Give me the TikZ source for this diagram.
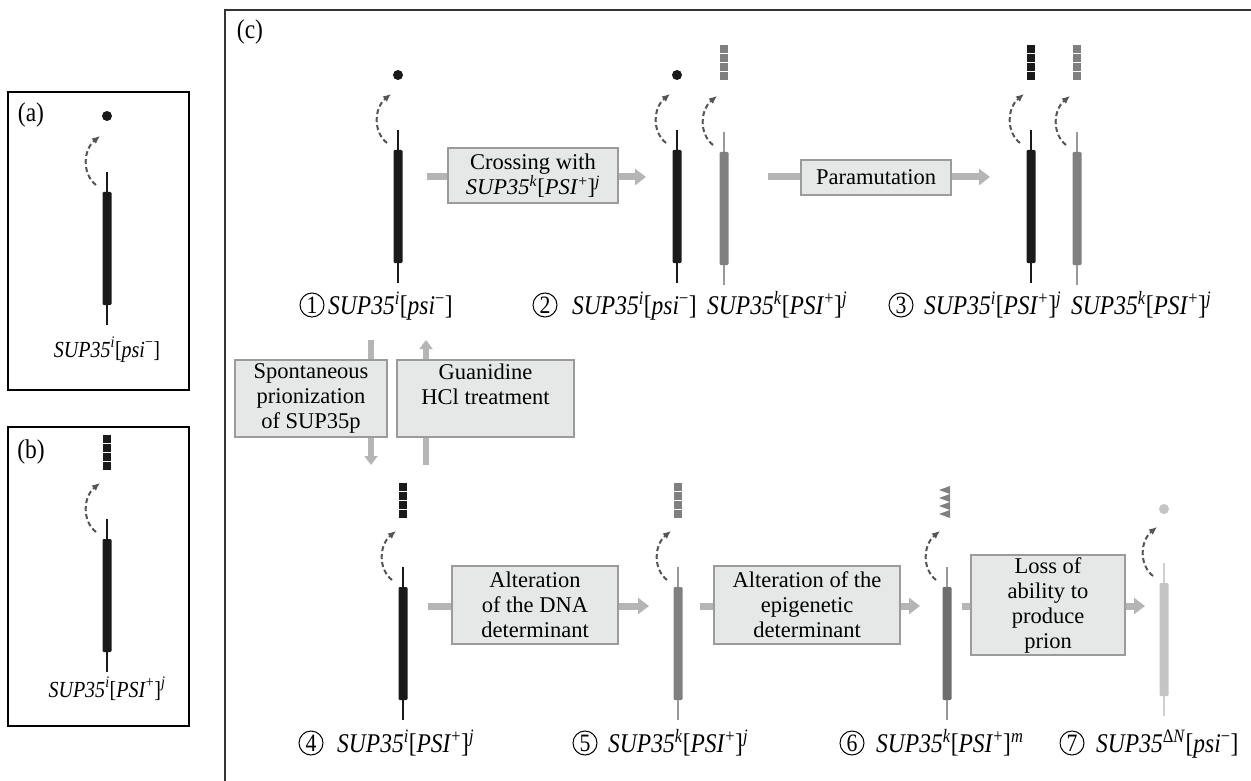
\documentclass[tikz,border=0pt]{standalone}
\usepackage{fontspec}
\setmainfont{Liberation Serif}
\newfontfamily\condfont{Liberation Serif}[FakeStretch=0.87]
\usetikzlibrary{arrows.meta,positioning}
\definecolor{gblack}{HTML}{1A1A1A}
\definecolor{ggray}{HTML}{808080}
\definecolor{gthin}{HTML}{999999}
\definecolor{gdark}{HTML}{6E6E6E}
\definecolor{glight}{HTML}{C4C4C4}
\definecolor{glthin}{HTML}{D0D0D0}
\definecolor{arrgray}{HTML}{B5B5B5}
\definecolor{boxfill}{HTML}{E6E7E7}
\definecolor{boxline}{HTML}{9B9B9B}
\definecolor{dashc}{HTML}{555555}
\definecolor{framec}{HTML}{333333}
\newcommand\SUP[1]{\textit{SUP35}\textsuperscript{#1}}
\newcommand\PSIp[1]{[\textit{PSI}\textsuperscript{+}]\textsuperscript{\textit{#1}}}
\newcommand\psim{[\textit{psi}\textsuperscript{−}]}
\newcommand\drawgene[5]{%
  \coordinate (#1) at (#2,#3);
  \draw[line width=2.6pt,#5] (#2,#3) -- (#2,#3+153);
  \fill[#4,rounded corners=1.2pt] (#2-4.5,#3+20) rectangle (#2+4.5,#3+133);
  \draw[dasharc] (#2-11,#3+13) .. controls (#2-25,#3+2) and (#2-24,#3-22) .. (#2-7,#3-36);
}
\newcommand\squares[3]{%
  \foreach \k in {0,...,3}{\fill[#3] (#1-4,#2+\k*9) rectangle (#1+4,#2+\k*9+8);}
}
\tikzset{
  x=1pt,y=-1pt,
  dasharc/.style={draw=dashc,line width=2pt,dash pattern=on 5pt off 3pt,-{Latex[length=8pt,width=7pt]}},
  bigarrow/.style={draw=arrgray,line width=7pt,-{Triangle[length=11pt,width=16pt]}},
  varrow/.style={draw=arrgray,line width=6pt,-{Triangle[length=9pt,width=13pt]}},
  pbox/.style={draw=boxline,fill=boxfill,line width=1.2pt,align=center,inner sep=0pt,
    font=\fontsize{22.5}{25}\selectfont},
  circnum/.style={circle,draw=black,line width=1pt,minimum size=24pt,inner sep=0pt,
    font=\condfont\fontsize{25}{25}\selectfont},
  labc/.style={anchor=base west,inner sep=0pt,font=\condfont\fontsize{27}{28}\selectfont},
  labab/.style={anchor=base,inner sep=0pt,font=\condfont\fontsize{23}{24}\selectfont},
  plabel/.style={inner sep=0pt,font=\condfont\fontsize{27}{28}\selectfont},
}
\begin{document}
\begin{tikzpicture}
\useasboundingbox (0,0) rectangle (1251,781);
% panel frames
\draw[line width=1.2pt,black] (8,92) rectangle (189,390);
\draw[line width=1.2pt,black] (8,427) rectangle (189,726);
\draw[line width=1.3pt,framec] (1251,10) -- (225,10) -- (225,781);
\node[plabel] (la) at (31,115) {(a)};
\node[plabel] (lb) at (31,452) {(b)};
\node[plabel] (lc) at (250,32) {(c)};

% panel (a)
\drawgene{pa}{107}{172}{gblack}{gblack}
\fill[gblack] (107,116) circle (5);
\node[labab] (tpa) at (107,357) {\SUP{\textit{i}}\psim};
% panel (b)
\drawgene{pb}{107}{519}{gblack}{gblack}
\squares{107}{435}{gblack}
\node[labab] (tpb) at (107,697) {\SUP{\textit{i}}\PSIp{j}};

% ---- panel (c) top row
\drawgene{g1}{398}{130}{gblack}{gblack}
\fill[gblack] (398,75) circle (5);
\drawgene{g2a}{677}{130}{gblack}{gblack}
\fill[gblack] (677,75) circle (5);
\drawgene{g2b}{724}{132}{ggray}{gthin}
\squares{724}{45}{ggray}
\drawgene{g3a}{1031}{130}{gblack}{gblack}
\squares{1031}{45}{gblack}
\drawgene{g3b}{1077}{132}{ggray}{gthin}
\squares{1077}{45}{ggray}

\coordinate (a1s) at (427,177); \coordinate (a1e) at (646,177);
\coordinate (a2s) at (768,177); \coordinate (a2e) at (990,177);
\draw[bigarrow] (a1s) -- (a1e);
\draw[bigarrow] (a2s) -- (a2e);
\node[pbox,minimum width=170pt,minimum height=55pt] (b1) at (533,175.5)
  {Crossing with\\\SUP{\textit{k}}\PSIp{j}};
\node[pbox,minimum width=150pt,minimum height=35pt] (b2) at (876,177.5) {Paramutation};

\node[circnum] (c1) at (312,305) {1};
\node[labc] (t1) at (328,314) {\SUP{\textit{i}}\psim};
\node[circnum] (c2) at (545,305) {2};
\node[labc] (t2a) at (572,314) {\SUP{\textit{i}}\psim};
\node[labc] (t2b) at (707,314) {\SUP{\textit{k}}\PSIp{j}};
\node[circnum] (c3) at (901,305) {3};
\node[labc] (t3a) at (924,314) {\SUP{\textit{i}}\PSIp{j}};
\node[labc] (t3b) at (1071,314) {\SUP{\textit{k}}\PSIp{j}};

% vertical arrows
\coordinate (v1s) at (371,340); \coordinate (v1e) at (371,465);
\coordinate (v2s) at (426,465); \coordinate (v2e) at (426,340);
\draw[varrow] (v1s) -- (v1e);
\draw[varrow] (v2s) -- (v2e);
\node[pbox,minimum width=152pt,minimum height=77pt] (b3) at (311,398.5)
  {Spontaneous\\prionization\\of SUP35p};
\node[pbox,minimum width=177pt,minimum height=77pt] (b4) at (485.5,398.5) {};
\node[pbox,draw=none,fill=none,anchor=north] (b4t) at (485.5,363) {Guanidine\\HCl treatment};

% ---- bottom row
\drawgene{g4}{403}{567}{gblack}{gblack}
\squares{403}{483}{gblack}
\drawgene{g5}{678}{567}{ggray}{gthin}
\squares{678}{483}{ggray}
\drawgene{g6}{947}{567}{gdark}{gthin}
\foreach \k in {0,...,3}{\fill[ggray] (950,486+\k*8) -- (950,494+\k*8) -- (939,490+\k*8) -- cycle;}
\drawgene{g7}{1164}{563}{glight}{glthin}
\fill[glight] (1164,509) circle (5);

\coordinate (a4s) at (428,606); \coordinate (a4e) at (649,606);
\coordinate (a5s) at (700,606); \coordinate (a5e) at (920,606);
\coordinate (a6s) at (962,606); \coordinate (a6e) at (1145,606);
\draw[bigarrow] (a4s) -- (a4e);
\draw[bigarrow] (a5s) -- (a5e);
\draw[bigarrow] (a6s) -- (a6e);
\node[pbox,minimum width=166pt,minimum height=78pt] (b5) at (535,605)
  {Alteration\\of the DNA\\determinant};
\node[pbox,minimum width=186pt,minimum height=78pt] (b6) at (807,605)
  {Alteration of the\\epigenetic\\determinant};
\node[pbox,minimum width=154pt,minimum height=100pt] (b7) at (1048,605)
  {Loss of\\ability to\\produce\\prion};

\node[circnum] (c4) at (311,743) {4};
\node[labc] (t4) at (337,752) {\SUP{\textit{i}}\PSIp{j}};
\node[circnum] (c5) at (585,743) {5};
\node[labc] (t5) at (608,752) {\SUP{\textit{k}}\PSIp{j}};
\node[circnum] (c6) at (852,743) {6};
\node[labc] (t6) at (876,752) {\SUP{\textit{k}}\PSIp{m}};
\node[circnum] (c7) at (1072,743) {7};
\node[labc] (t7) at (1096,752) {\SUP{Δ\textit{N}}\psim};
\end{tikzpicture}
\end{document}
